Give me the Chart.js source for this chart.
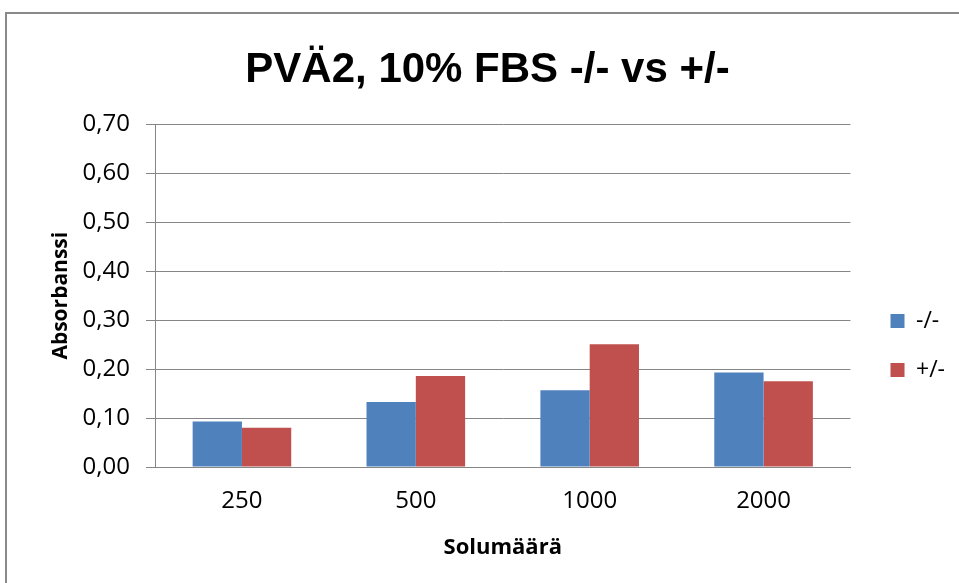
<!DOCTYPE html>
<html>
<head>
<meta charset="utf-8">
<script src="https://cdn.jsdelivr.net/npm/chart.js@4"></script>
<style>
    html, body { margin: 0; padding: 0; background: #fff; overflow: hidden; }
    #wrap { position: relative; width: 959px; height: 583px; }
    #kehys { position: absolute; left: 5px; top: 12px; width: 1000px; height: 1000px;
             border-left: 2px solid #8a8a8a; border-top: 2px solid #8a8a8a; }
    canvas { position: absolute; left: 0; top: 0; }
</style>
</head>
<body>
<div id="wrap">
    <div id="kehys"></div>
    <canvas id="kaavio" width="959" height="583"></canvas>
</div>
<script>
// Solumäärät ja absorbanssit
const solumaarat = ['250', '500', '1000', '2000'];
const miinus = [0.093, 0.133, 0.157, 0.193];   // -/-
const plus = [0.080, 0.186, 0.251, 0.175];     // +/-
const yTicks = [0, 0.1, 0.2, 0.3, 0.4, 0.5, 0.6, 0.7];

const harmaa = '#868686';
const fontti = "'Open Sans', sans-serif";

// Excelin selite on piirtoalueen oikealla puolella, vähän keskikohdan alapuolella
const siirraSelite = {
    id: 'siirraSelite',
    afterLayout(chart) {
        const l = chart.legend;
        const dx = 14, dy = 65;
        l.left += dx; l.right += dx;
        l.top += dy; l.bottom += dy;
    }
};

const ctx = document.getElementById('kaavio').getContext('2d');
new Chart(ctx, {
    type: 'bar',
    data: {
        labels: solumaarat,
        datasets: [
            { label: '-/-', data: miinus, backgroundColor: '#4F81BD' },
            { label: '+/-', data: plus, backgroundColor: '#C0504D' }
        ]
    },
    plugins: [siirraSelite],
    options: {
        responsive: false,
        animation: false,
        layout: { padding: { left: 34, right: 18, top: 0, bottom: 22 } },
        datasets: { bar: { categoryPercentage: 0.567, barPercentage: 1 } },
        plugins: {
            title: {
                display: true,
                text: 'PVÄ2, 10% FBS -/- vs +/-',
                color: '#000',
                font: { family: "'Liberation Sans', sans-serif", size: 42, weight: 'bold' },
                padding: { top: 45, bottom: 29 }
            },
            legend: {
                position: 'right',
                labels: {
                    boxWidth: 14,
                    boxHeight: 14,
                    padding: 26,
                    color: '#000',
                    font: { family: fontti, size: 23 }
                }
            },
            tooltip: { enabled: false }
        },
        scales: {
            x: {
                afterFit: (s) => { s.height = 94; },
                grid: { display: false, drawTicks: false },
                border: { display: true, color: harmaa, width: 1 },
                ticks: { color: '#000', padding: 20, font: { family: fontti, size: 24 } },
                title: {
                    display: true,
                    text: 'Solumäärä',
                    color: '#000',
                    padding: 0,
                    font: { family: fontti, size: 22, weight: 'bold' }
                }
            },
            y: {
                min: 0,
                max: 0.7,
                afterFit: (s) => { s.width = 121; },
                afterBuildTicks: (akseli) => { akseli.ticks = yTicks.map(v => ({ value: v })); },
                grid: { color: harmaa, tickLength: 9, lineWidth: 1 },
                border: { display: true, color: harmaa },
                ticks: {
                    color: '#000',
                    padding: 16,
                    font: { family: fontti, size: 24 },
                    callback: (v) => v.toFixed(2).replace('.', ',')
                },
                title: {
                    display: true,
                    text: 'Absorbanssi',
                    color: '#000',
                    padding: { top: 14, bottom: 0 },
                    font: { family: fontti, size: 21, weight: 'bold' }
                }
            }
        }
    }
});
</script>
</body>
</html>
